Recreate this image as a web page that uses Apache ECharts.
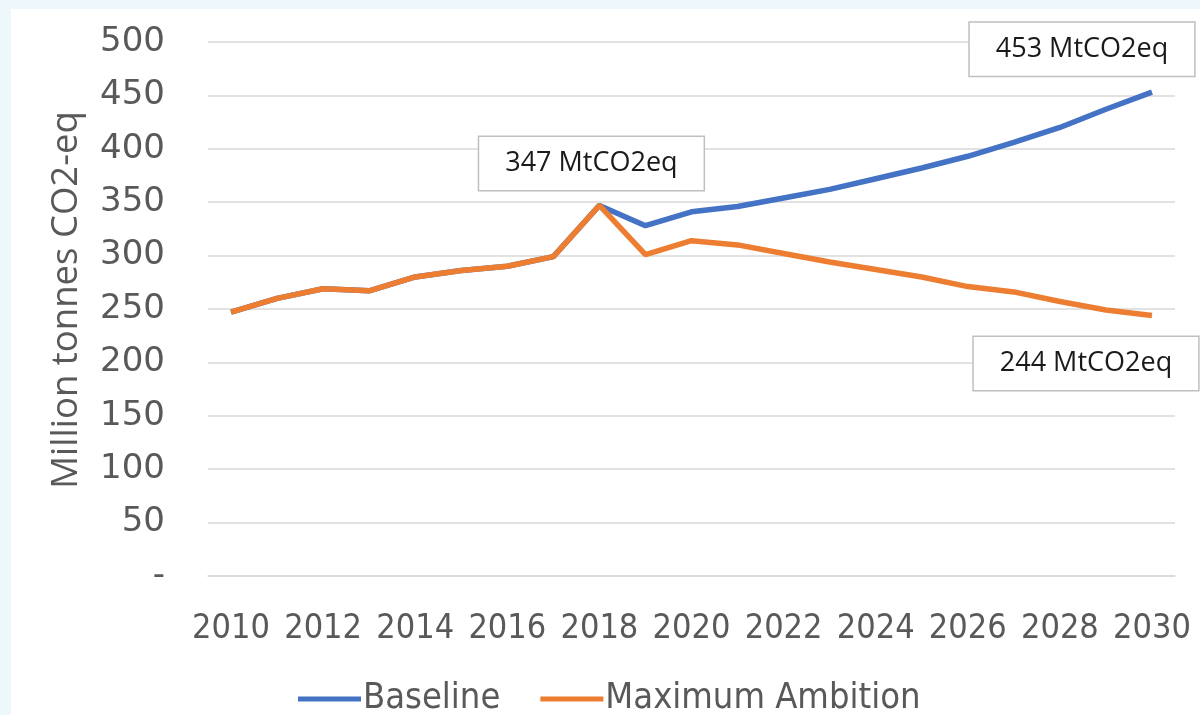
<!DOCTYPE html>
<html>
<head>
<meta charset="utf-8">
<script src="https://cdn.jsdelivr.net/npm/echarts@6/dist/echarts.min.js"></script>
<style>
  html, body { margin: 0; padding: 0; background: #eef7fc; }
  #main { width: 1200px; height: 715px; }
</style>
</head>
<body>
<div id="main"></div>
<script type="text/javascript">
// 数据
var years = ['2010', '2011', '2012', '2013', '2014', '2015', '2016', '2017', '2018', '2019',
  '2020', '2021', '2022', '2023', '2024', '2025', '2026', '2027', '2028', '2029', '2030']
var baseline = [247, 260, 269, 267, 280, 286, 290, 299, 347, 328,
  341, 346, 354, 362, 372, 382, 393, 406, 420, 437, 453]
var maxAmbition = [247, 260, 269, 267, 280, 286, 290, 299, 347, 301,
  314, 310, 302, 294, 287, 280, 271, 266, 257, 249, 244]
var seriesNames = ['Baseline', 'Maximum Ambition']
var yTicks = [0, 50, 100, 150, 200, 250, 300, 350, 400, 450, 500]

var narrow = "'DejaVu Sans Condensed', sans-serif"
var wide = "'DejaVu Sans', sans-serif"
var open = "'Open Sans', sans-serif"

var last = years.length - 1
var peak = years.indexOf('2018')

// 标注框
function callout(idx, data, offset) {
  return {
    coord: [years[idx], data[idx]],
    value: data[idx],
    symbol: 'rect',
    symbolSize: 1,
    itemStyle: { color: 'rgba(0,0,0,0)' },
    label: {
      show: true,
      position: 'inside',
      offset: offset,
      formatter: function (p) { return p.value + ' MtCO2eq' },
      fontFamily: open,
      fontSize: 27,
      color: '#1a1a1a',
      backgroundColor: '#ffffff',
      borderColor: '#bfbfbf',
      borderWidth: 1.5,
      padding: [13, 26, 13, 26]
    }
  }
}

var chart = echarts.init(document.getElementById('main'))
var option = {
  backgroundColor: '#eef7fc',
  animation: false,
  graphic: [{
    type: 'rect',
    z: -10,
    shape: { x: 11, y: 9, width: 1200, height: 720 },
    style: { fill: '#ffffff' }
  }],
  color: ['#4472C4', '#ED7D31'],
  grid: { left: 208, right: 25, top: 42, bottom: 139 },
  legend: {
    data: seriesNames,
    left: 293,
    bottom: -7,
    icon: 'rect',
    itemWidth: 63,
    itemHeight: 5,
    itemGap: 40,
    textStyle: { fontFamily: narrow, fontSize: 36, color: '#595959', padding: [0, 0, 0, -3] }
  },
  xAxis: {
    type: 'category',
    data: years,
    boundaryGap: true,
    axisLine: { show: true, lineStyle: { color: '#d9d9d9', width: 1.5 } },
    axisTick: { show: false },
    axisLabel: {
      interval: 1,
      showMinLabel: true,
      showMaxLabel: true,
      hideOverlap: false,
      margin: 36,
      fontFamily: narrow,
      fontSize: 34,
      color: '#595959'
    }
  },
  yAxis: {
    type: 'value',
    min: yTicks[0],
    max: yTicks[yTicks.length - 1],
    interval: 50,
    name: 'Million tonnes CO2-eq',
    nameLocation: 'middle',
    nameGap: 123,
    nameTextStyle: { fontFamily: open, fontSize: 36.5, color: '#595959', padding: [0, 0, 0, 18] },
    axisLine: { show: false },
    axisTick: { show: false },
    splitLine: { lineStyle: { color: '#d9d9d9', width: 1.5 } },
    axisLabel: {
      margin: 43,
      fontFamily: wide,
      fontSize: 34,
      color: '#595959',
      formatter: function (v) { return v === 0 ? '-' : v }
    }
  },
  series: [
    {
      name: seriesNames[0],
      type: 'line',
      symbol: 'none',
      lineStyle: { width: 5.5 },
      data: baseline,
      markPoint: { data: [callout(last, baseline, [-70, -43])] }
    },
    {
      name: seriesNames[1],
      type: 'line',
      symbol: 'none',
      lineStyle: { width: 5.5 },
      data: maxAmbition,
      markPoint: {
        data: [
          callout(peak, maxAmbition, [-8, -42]),
          callout(last, maxAmbition, [-66, 48])
        ]
      }
    }
  ]
}
chart.setOption(option)
window.addEventListener('resize', function () {
  chart.resize()
})
</script>
</body>
</html>
